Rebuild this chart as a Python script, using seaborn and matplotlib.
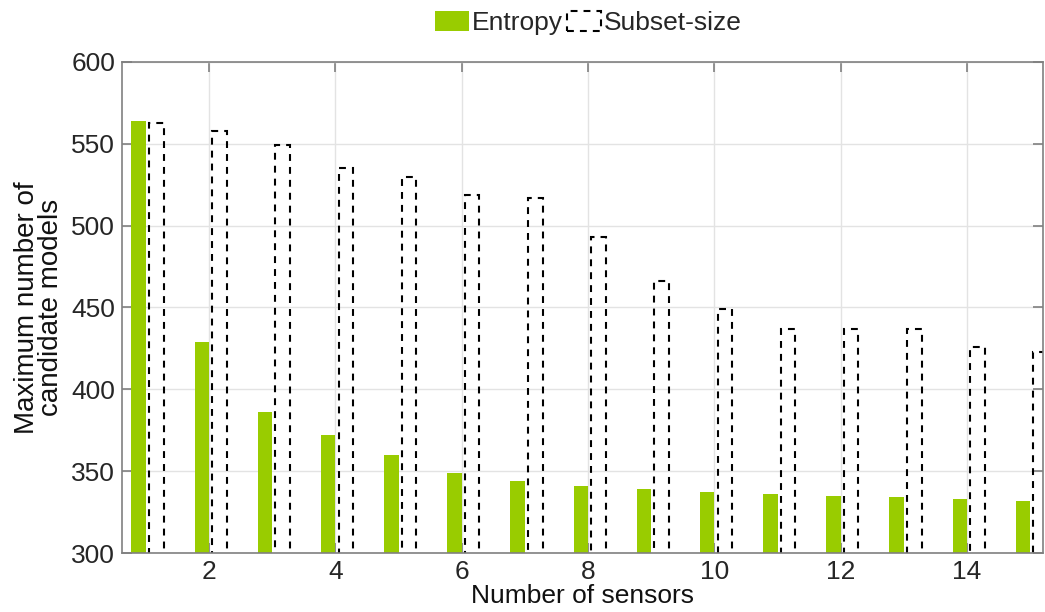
import numpy as np
import pandas as pd
import matplotlib
matplotlib.use("Agg")
import matplotlib.pyplot as plt
import seaborn as sns

# Data
sensors = [1, 2, 3, 4, 5, 6, 7, 8, 9, 10, 11, 12, 13, 14, 15]
entropy = [564, 429, 386, 372, 360, 349, 344, 341, 339, 337, 336, 335, 334, 333, 332]
subset_size = [563, 558, 549, 535, 530, 519, 517, 493, 466, 449, 437, 437, 437, 426, 423]
yticks = [300, 350, 400, 450, 500, 550, 600]
xticks = [2, 4, 6, 8, 10, 12, 14]

sns.set_style("ticks")
plt.rcParams["font.family"] = ["Liberation Sans", "DejaVu Sans"]

GREEN = "#99cc00"
AXIS_GREY = "#808080"
TEXT = "#262626"
FS = 19

fig = plt.figure(figsize=(10.45, 6.12), dpi=100)
ax = fig.add_axes([0.1167, 0.0964, 0.8813, 0.8023])

bar_w = 0.23
df_e = pd.DataFrame({"x": np.array(sensors) - 0.115, "y": entropy})
df_s = pd.DataFrame({"x": np.array(sensors) + 0.165, "y": subset_size})

sns.barplot(data=df_e, x="x", y="y", native_scale=True, width=bar_w,
            color=GREEN, saturation=1, errorbar=None, linewidth=0,
            label="Entropy", ax=ax, zorder=3)
sns.barplot(data=df_s, x="x", y="y", native_scale=True, width=bar_w,
            fill=False, color="black", errorbar=None, linewidth=1.5,
            linestyle=(0, (3.3, 2.9)), label="Subset-size", ax=ax, zorder=3)

ax.set_xlim(0.62, 15.2)
ax.set_ylim(300, 600)
ax.set_xticks(xticks)
ax.set_yticks(yticks)
ax.set_xticklabels([str(t) for t in xticks])
ax.set_yticklabels([str(t) for t in yticks])

ax.grid(True, color="#e3e3e3", linewidth=1.0)
ax.set_axisbelow(True)

for side in ["left", "bottom", "top", "right"]:
    ax.spines[side].set_visible(True)
    ax.spines[side].set_color(AXIS_GREY)
    ax.spines[side].set_linewidth(1.2)
    ax.spines[side].set_zorder(5)

ax.tick_params(axis="both", direction="in", length=7, width=1.2,
               color=AXIS_GREY, labelcolor=TEXT, labelsize=FS,
               top=True, right=True, pad=5)

ax.set_xlabel("Number of sensors", fontsize=FS, color="#111111", labelpad=0)
ax.set_ylabel("Maximum number of\ncandidate models", fontsize=20,
              color="#111111", labelpad=5, linespacing=0.92)

handles, labels = ax.get_legend_handles_labels()
if ax.get_legend() is not None:
    ax.get_legend().remove()
fig.legend(handles, labels, loc="center", bbox_to_anchor=(0.563, 0.962),
           ncol=2, frameon=False, fontsize=FS, handlelength=1.3,
           handleheight=0.75, handletextpad=0.1, columnspacing=0.15)

fig.savefig("out.png", dpi=100)
